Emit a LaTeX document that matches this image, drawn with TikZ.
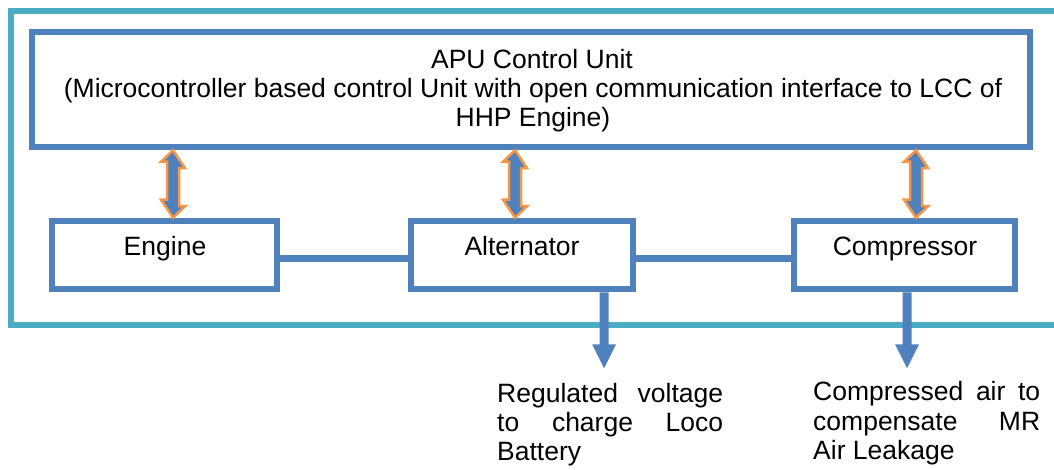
\documentclass[tikz,border=0pt]{standalone}
\usepackage{fontspec}
\setmainfont{Liberation Sans}
\definecolor{boxblue}{HTML}{4F81BD}
\definecolor{frameteal}{HTML}{4BACC6}
\definecolor{arrorange}{HTML}{F79646}
\begin{document}
\begin{tikzpicture}[x=1pt,y=-1pt,
  blockbox/.style={draw=boxblue,line width=6.5pt,inner sep=0pt},
  txt/.style={font=\fontsize{26.5}{29}\selectfont,inner sep=0pt,anchor=base},
  linetxt/.style={font=\fontsize{26.5}{29}\selectfont,inner sep=0pt,anchor=base west},
  link/.style={draw=boxblue,line width=7pt},
  dblarrow/.style={draw=arrorange,fill=boxblue,line width=2.5pt,line join=miter},
  outarrow/.style={fill=boxblue,draw=none}]
\useasboundingbox (0,0) rectangle (1054,470);
\clip (0,0) rectangle (1054,470);
% outer frame
\draw[draw=frameteal,line width=6pt] (11,11) rectangle (1080,325);
% boxes
\node[blockbox,minimum width=998pt,minimum height=115pt] (apu) at (531,89.5) {};
\node[blockbox,minimum width=225pt,minimum height=68pt] (eng) at (164.5,255) {};
\node[blockbox,minimum width=222pt,minimum height=68pt] (alt) at (522,255) {};
\node[blockbox,minimum width=221pt,minimum height=68pt] (comp) at (904.5,255) {};
% texts
\node[txt] (t1) at (532,69) {APU Control Unit};
\node[txt] (t2) at (533,98) {(Microcontroller based control Unit with open communication interface to LCC of};
\node[txt] (t3) at (533,127) {HHP Engine)};
\node[txt] (te) at (165,255) {Engine};
\node[txt] (ta) at (522,255) {Alternator};
\node[txt] (tc) at (905,255) {Compressor};
% horizontal links
\draw[link] (eng.east |- 0,259) -- (alt.west |- 0,259);
\draw[link] (alt.east |- 0,259) -- (comp.west |- 0,259);
% double arrows
\foreach \xx/\bb in {173/eng,515/alt,916/comp}{
  \coordinate (tt) at (\xx,0 |- apu.south);
  \coordinate (bt) at (\xx,0 |- \bb.north);
  \draw[dblarrow] (tt) -- ++(12,18) -- ++(-6,0) -- ++(0,38) -- ++(6,0) -- (bt)
     -- ++(-12,-18) -- ++(6,0) -- ++(0,-38) -- ++(-6,0) -- cycle;
}
% output arrows
\coordinate (oa) at (604,0 |- alt.south);
\coordinate (oc) at (907,0 |- comp.south);
\foreach \pp in {oa,oc}{
  \fill[outarrow] (\pp) ++(-4.5,0) -- ++(0,52) -- ++(-7.5,0) -- ++(12,24) -- ++(12,-24) -- ++(-7.5,0) -- ++(0,-52) -- cycle;
}
% output texts
\node[linetxt] (r1) at (497,402) {\makebox[226pt][s]{Regulated voltage}};
\node[linetxt] (r2) at (497,431) {\makebox[226pt][s]{to charge Loco}};
\node[linetxt] (r3) at (497,460) {Battery};
\node[linetxt] (c1) at (813,400) {\makebox[227pt][s]{Compressed air to}};
\node[linetxt] (c2) at (813,430) {\makebox[227pt][s]{compensate MR}};
\node[linetxt] (c3) at (813,459) {Air Leakage};
\end{tikzpicture}
\end{document}
